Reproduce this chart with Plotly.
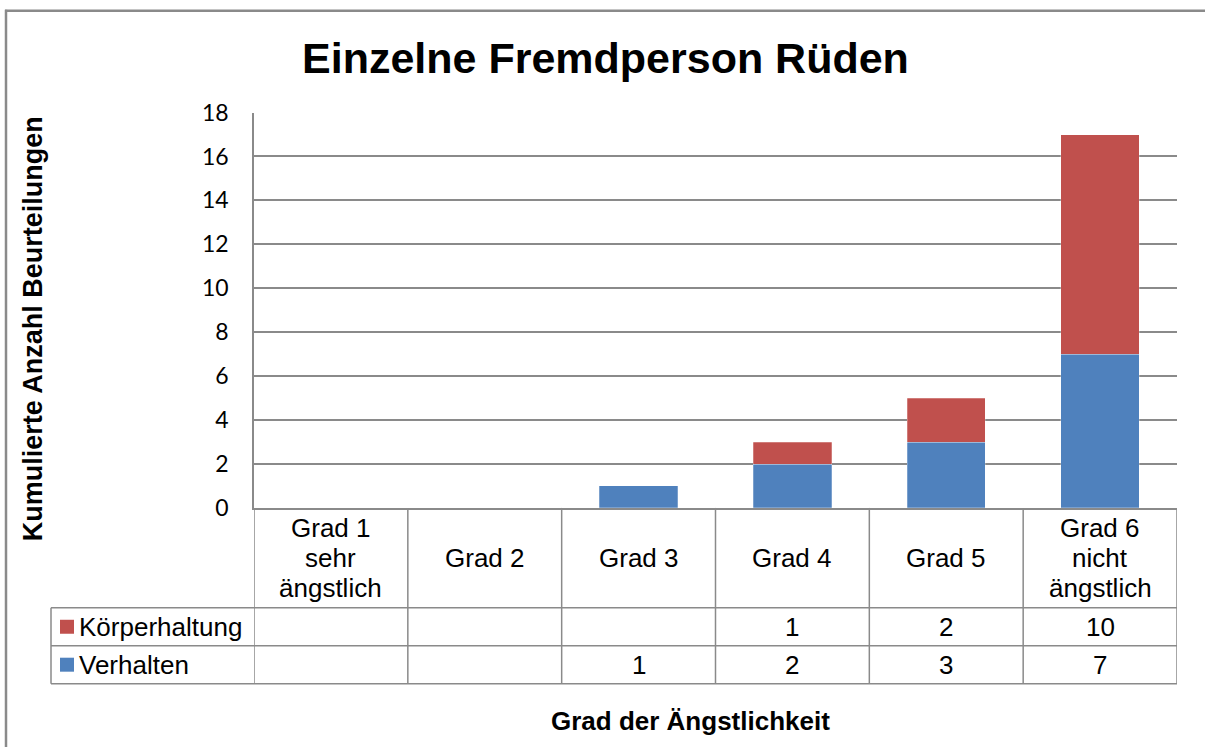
import plotly.graph_objects as go

# ---- data ----
categories = ["Grad 1<br>sehr<br>ängstlich", "Grad 2", "Grad 3", "Grad 4", "Grad 5",
              "Grad 6<br>nicht<br>ängstlich"]
series_names = ["Verhalten", "Körperhaltung"]
verhalten = [None, None, 1, 2, 3, 7]
koerperhaltung = [None, None, None, 1, 2, 10]
series_colors = ["#4F81BD", "#C0504D"]
y_ticks = [0, 2, 4, 6, 8, 10, 12, 14, 16, 18]
title_text = "Einzelne Fremdperson Rüden"
x_title = "Grad der Ängstlichkeit"
y_title = "Kumulierte Anzahl Beurteilungen"

W, H = 1205, 747
OFF, SC = 13.3, 0.964
def px(p):
    return p / W
def py(p):
    return 1 - ((p - OFF) / SC) / H

PLOT_L, PLOT_R, PLOT_T, PLOT_B = 254, 1177, 111, 507
ROW1_B, ROW2_B, ROW3_B = 607, 645, 683
TABLE_L = 51
GRID = "#8a8a8a"
FONT = "Liberation Sans, Arial, sans-serif"
TXT = 26
LINE_H = 30

xs = list(range(len(categories)))
fig = go.Figure()
fig.add_trace(go.Bar(x=xs, y=verhalten, name=series_names[0],
                     marker=dict(color=series_colors[0], line=dict(color="rgba(255,255,255,0.5)", width=0.5))))
fig.add_trace(go.Bar(x=xs, y=koerperhaltung, name=series_names[1],
                     marker=dict(color=series_colors[1], line=dict(color="rgba(255,255,255,0.5)", width=0.5))))

shapes = []
annotations = []
# outer chart border
shapes.append(dict(type="line", xref="paper", yref="paper", x0=px(5), x1=px(1206), y0=py(9), y1=py(9),
                   line=dict(color="#8a8a8a", width=2.5)))
shapes.append(dict(type="line", xref="paper", yref="paper", x0=px(6), x1=px(6), y0=py(8), y1=py(760),
                   line=dict(color="#8a8a8a", width=2.5)))

# table vertical boundaries
for i in range(len(categories) + 1):
    shapes.append(dict(type="line", xref="x", yref="paper", x0=i - 0.5, x1=i - 0.5,
                       y0=py(ROW3_B), y1=py(PLOT_B), line=dict(color=GRID, width=1.5)))
# table horizontal lines
for yb in [ROW1_B, ROW2_B, ROW3_B]:
    shapes.append(dict(type="line", xref="paper", yref="paper", x0=px(TABLE_L), x1=px(PLOT_R),
                       y0=py(yb), y1=py(yb), line=dict(color=GRID, width=1.5)))
shapes.append(dict(type="line", xref="paper", yref="paper", x0=px(TABLE_L), x1=px(TABLE_L),
                   y0=py(ROW3_B), y1=py(ROW1_B), line=dict(color=GRID, width=1.5)))

# category header labels (one annotation per line for tight line spacing)
head_c = (PLOT_B + ROW1_B) / 2
for i, c in enumerate(categories):
    lines = c.split("<br>")
    n = len(lines)
    for k, ln in enumerate(lines):
        yc = head_c + (k - (n - 1) / 2) * LINE_H
        annotations.append(dict(x=i, y=py(yc), xref="x", yref="paper", text=ln,
                                showarrow=False, xanchor="center", yanchor="middle",
                                font=dict(family=FONT, size=TXT, color="black")))

# table rows: Körperhaltung on top, Verhalten below
rows = [(series_names[1], koerperhaltung, series_colors[1], (ROW1_B + ROW2_B) / 2),
        (series_names[0], verhalten, series_colors[0], (ROW2_B + ROW3_B) / 2)]
for name, vals, col, yc in rows:
    shapes.append(dict(type="rect", xref="paper", yref="paper", x0=px(60), x1=px(74),
                       y0=py(yc + 7), y1=py(yc - 7), fillcolor=col, line=dict(width=0)))
    annotations.append(dict(x=px(77), y=py(yc), xref="paper", yref="paper", text=name,
                            showarrow=False, xanchor="left", yanchor="middle",
                            font=dict(family=FONT, size=TXT, color="black")))
    for i, v in enumerate(vals):
        if v is not None:
            annotations.append(dict(x=i, y=py(yc), xref="x", yref="paper", text=str(v),
                                    showarrow=False, xanchor="center", yanchor="middle",
                                    font=dict(family=FONT, size=TXT, color="black")))

# titles
annotations.append(dict(x=px(605), y=py(56), xref="paper", yref="paper", text="<b>" + title_text + "</b>",
                        showarrow=False, xanchor="center", yanchor="middle",
                        font=dict(family=FONT, size=43, color="black")))
annotations.append(dict(x=px(690), y=py(720), xref="paper", yref="paper", text="<b>" + x_title + "</b>",
                        showarrow=False, xanchor="center", yanchor="middle",
                        font=dict(family=FONT, size=26, color="black")))
annotations.append(dict(x=px(33), y=py(328), xref="paper", yref="paper", text="<b>" + y_title + "</b>",
                        showarrow=False, xanchor="center", yanchor="middle", textangle=-90,
                        font=dict(family=FONT, size=27, color="black")))

fig.update_layout(
    width=W, height=H, autosize=False,
    margin=dict(l=0, r=0, t=0, b=0, pad=0),
    paper_bgcolor="white", plot_bgcolor="white",
    barmode="stack", bargap=0.49, showlegend=False,
    shapes=shapes, annotations=annotations,
    xaxis=dict(domain=[px(PLOT_L), px(PLOT_R)], range=[-0.5, len(categories) - 0.5],
               showticklabels=False, showgrid=False, zeroline=False,
               showline=True, linecolor=GRID, linewidth=1.5, ticks=""),
    yaxis=dict(domain=[py(PLOT_B), py(PLOT_T)], range=[0, 18], tickvals=y_ticks,
               showgrid=True, gridcolor=GRID, gridwidth=1.5, zeroline=False,
               showline=True, linecolor=GRID, linewidth=1.5, ticks="", ticklen=0,
               tickfont=dict(family="Lato, Carlito, Calibri, sans-serif", size=23, color="black"),
               ticklabelstandoff=19),
)

fig.write_html("out.html", config={"displayModeBar": False},
               post_script="document.body.style.margin='0';document.body.style.overflow='hidden';")
